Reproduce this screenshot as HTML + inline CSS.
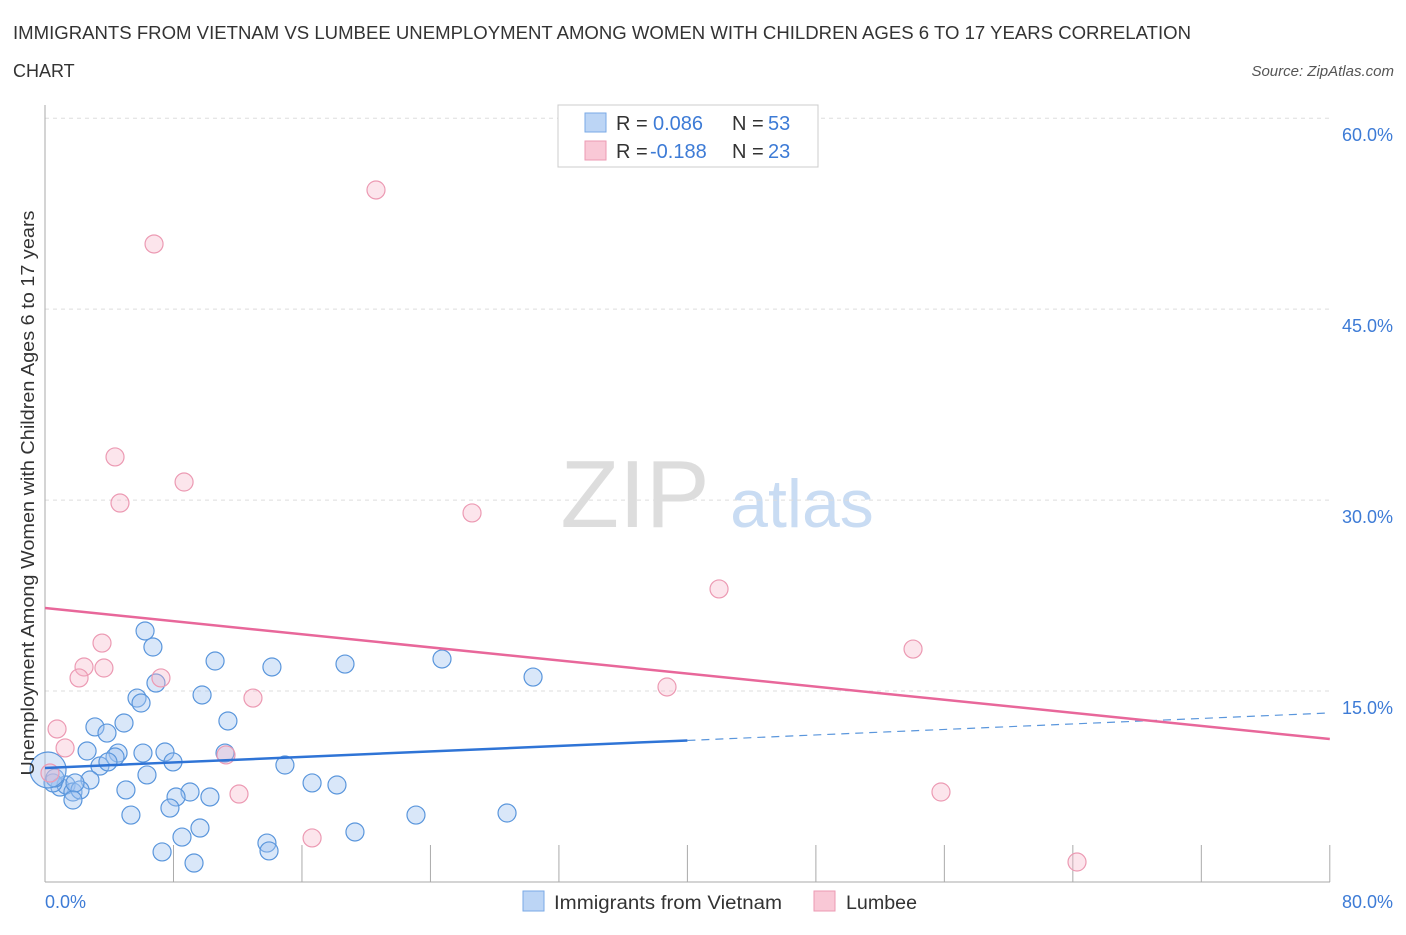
<!DOCTYPE html>
<html><head><meta charset="utf-8"><style>
body{margin:0;background:#fff;font-family:"Liberation Sans",sans-serif;}
svg text{font-family:"Liberation Sans",sans-serif;}
</style></head><body>
<svg id="chart" width="1406" height="930" viewBox="0 0 1406 930" xmlns="http://www.w3.org/2000/svg">
<text x="13" y="39" font-size="18" fill="#333" textLength="1178" lengthAdjust="spacingAndGlyphs">IMMIGRANTS FROM VIETNAM VS LUMBEE UNEMPLOYMENT AMONG WOMEN WITH CHILDREN AGES 6 TO 17 YEARS CORRELATION</text>
<text x="13" y="77" font-size="18" fill="#333">CHART</text>
<text x="1394" y="76" font-size="15" fill="#555" text-anchor="end" font-style="italic">Source: ZipAtlas.com</text>
<g>
<text x="635" y="527" font-size="96" fill="#ddd" font-family="Liberation Serif" text-anchor="middle">ZIP</text>
<text x="802" y="527" font-size="68" fill="#c9dcf3" text-anchor="middle">atlas</text>
</g>
<g id="grid"></g>
<g id="axes"></g>
<g id="marks"></g>
<text transform="translate(34,493) rotate(-90)" font-size="18" fill="#333" text-anchor="middle" textLength="565" lengthAdjust="spacingAndGlyphs">Unemployment Among Women with Children Ages 6 to 17 years</text>
<text x="45" y="908" font-size="18" fill="#3d7bd6">0.0%</text>
<text x="1393" y="908" font-size="18" fill="#3d7bd6" text-anchor="end">80.0%</text>
<g>
<rect x="558" y="105" width="260" height="62" fill="#fff" stroke="#ccc"/>
<rect x="585" y="113" width="21" height="19" fill="#bcd5f5" stroke="#7aa9e6"/>
<rect x="585" y="141" width="21" height="19" fill="#f9c8d6" stroke="#ec9ab3"/>
<text x="616" y="130" font-size="20" fill="#333">R = </text><text x="653" y="130" font-size="20" fill="#3d7bd6">0.086</text>
<text x="732" y="130" font-size="20" fill="#333">N = </text><text x="768" y="130" font-size="20" fill="#3d7bd6">53</text>
<text x="616" y="158" font-size="20" fill="#333">R = </text><text x="650" y="158" font-size="20" fill="#3d7bd6">-0.188</text>
<text x="732" y="158" font-size="20" fill="#333">N = </text><text x="768" y="158" font-size="20" fill="#3d7bd6">23</text>
</g>
<g>
<rect x="523" y="891" width="21" height="20" fill="#bcd5f5" stroke="#7aa9e6"/>
<text x="554" y="909" font-size="19" fill="#333" textLength="228" lengthAdjust="spacingAndGlyphs">Immigrants from Vietnam</text>
<rect x="814" y="891" width="21" height="20" fill="#f9c8d6" stroke="#ec9ab3"/>
<text x="846" y="909" font-size="19" fill="#333" textLength="71" lengthAdjust="spacingAndGlyphs">Lumbee</text>
</g>
</svg>
<script>
const yTicks=[15,30,45,60];
const yTickLabels=["15.0%","30.0%","45.0%","60.0%"];
const xTicks=[8,16,24,32,40,48,56,64,72,80];
const blueX=[6.23,6.72,6.91,5.73,5.98,10.59,14.13,18.68,24.72,30.39,9.78,11.39,4.92,3.11,3.86,2.62,4.55,4.36,3.42,3.92,7.47,7.97,11.21,14.94,2.80,0.93,1.31,1.74,2.18,1.87,5.04,6.35,9.03,8.16,10.27,7.78,5.35,16.63,18.18,19.30,23.10,28.77,9.65,8.53,7.29,9.28,13.82,13.95,1.74,0.50,0.62,6.10,0.19];
const blueY=[19.72,18.46,15.63,14.45,14.06,17.36,16.89,17.12,17.52,16.10,14.69,12.65,12.49,12.18,11.70,10.29,10.13,9.82,9.11,9.43,10.21,9.43,10.13,9.19,8.01,7.46,7.62,7.07,7.23,7.78,7.23,8.41,7.07,6.68,6.68,5.81,5.26,7.78,7.62,3.93,5.26,5.42,4.24,3.53,2.36,1.49,3.06,2.44,6.44,7.78,8.17,10.13,8.8];
const pinkX=[20.61,6.79,4.36,8.66,4.67,26.59,41.97,54.05,3.55,2.43,2.12,3.67,7.22,12.95,38.73,0.75,1.25,11.27,12.08,55.79,16.63,64.26,0.31];
const pinkY=[54.36,50.12,33.39,31.42,29.77,28.99,23.02,18.30,18.77,16.89,16.03,16.81,16.03,14.45,15.32,12.02,10.53,9.98,6.91,7.07,3.46,1.57,8.56];
const blueTrend=[8.96,13.28];
const pinkTrend=[21.52,11.23];
const NS='http://www.w3.org/2000/svg';
const sx=v=>45+v*16.06;
const sy=v=>882-v*12.73;
function mk(tag,attrs,parent){const e=document.createElementNS(NS,tag);for(const k in attrs)e.setAttribute(k,attrs[k]);document.getElementById(parent).appendChild(e);return e;}
yTicks.forEach((t,i)=>{
 const g=mk('line',{x1:45,x2:1330,y1:sy(t),y2:sy(t),stroke:'#ddd','stroke-dasharray':'4,4'},'grid');
 
 
 const l=mk('text',{x:1393,y:sy(t)+23,'font-size':18,fill:'#3d7bd6','text-anchor':'end'},'grid');
 l.textContent=yTickLabels[i];
 
 
});
const ya=mk('line',{x1:45,x2:45,y1:105,y2:882,stroke:'#aaa'},'axes');


const xa=mk('line',{x1:45,x2:1330,y1:882,y2:882,stroke:'#aaa'},'axes');


xTicks.forEach(t=>{
 const tk=mk('line',{x1:sx(t),x2:sx(t),y1:845,y2:882,stroke:'#aaa'},'axes');
 
 
});
blueX.forEach((x,i)=>{
 const big=i===blueX.length-1;
 const c=mk('circle',{cx:sx(x),cy:sy(blueY[i]),r:big?18:9,fill:'rgba(160,196,240,0.4)',stroke:'#5a96dc','stroke-width':1.2},'marks');
 
 
});
pinkX.forEach((x,i)=>{
 const c=mk('circle',{cx:sx(x),cy:sy(pinkY[i]),r:9,fill:'rgba(246,180,200,0.35)',stroke:'#ec9ab3','stroke-width':1.2},'marks');
 
 
});
const bm=blueTrend[0]+(blueTrend[1]-blueTrend[0])*0.5;
const b1=mk('line',{x1:sx(0),y1:sy(blueTrend[0]),x2:sx(40),y2:sy(bm),stroke:'#2f74d6','stroke-width':2.5},'marks');


const b2=mk('line',{x1:sx(40),y1:sy(bm),x2:sx(80),y2:sy(blueTrend[1]),stroke:'#5a96dc','stroke-width':1.2,'stroke-dasharray':'8,6'},'marks');


const p1=mk('line',{x1:sx(0),y1:sy(pinkTrend[0]),x2:sx(80),y2:sy(pinkTrend[1]),stroke:'#e8679a','stroke-width':2.5},'marks');


</script>
</body></html>
